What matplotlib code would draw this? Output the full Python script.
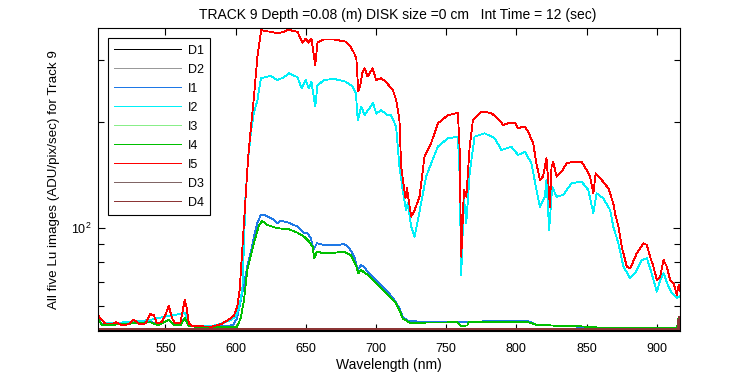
import matplotlib
matplotlib.use("Agg")
import matplotlib.pyplot as plt
import numpy as np
from matplotlib.ticker import FixedLocator, NullFormatter, FixedFormatter
from matplotlib.legend_handler import HandlerLine2D
from matplotlib.lines import Line2D

plt.rcParams['font.family'] = ['Liberation Sans', 'DejaVu Sans']
plt.rcParams['mathtext.fontset'] = 'custom'
plt.rcParams['mathtext.rm'] = 'Liberation Sans'

LW = 0.6

# ---------------- data ----------------
wl_I5 = [502, 503.6, 507, 513, 514.8, 519, 523.8, 527.4, 532, 535.7, 539.3, 541.7, 544, 547.6,
         550.5, 552.4, 554.8, 557, 560.7, 562.4, 563.8, 565, 566.7, 569, 583, 587, 590.5, 595,
         598.8, 601.2, 602.9, 604, 605.5, 607, 609, 611.4, 613.1, 615.5, 618.3, 621, 625, 629.8,
         634.5, 638, 641, 644, 647.6, 650, 651.7, 654, 656.7, 658.3, 663, 670, 678.6, 682, 684.5,
         686, 687.4, 689, 690.5, 692, 694, 697.6, 700, 703.6, 707, 712, 714.3, 716.7, 717.9,
         720.2, 721, 722, 725, 727.4, 731, 734.5, 739.3, 744, 751.2, 758.3, 759.5, 760.7, 762.6,
         764.3, 766.7, 769, 775, 782, 788.1, 790.5, 794, 798.8, 801.2, 806, 808.3, 811.9, 814.3,
         816.7, 819, 821.4, 822.6, 823.8, 825, 826.2, 828.6, 832, 835.7, 840.5, 846.4, 850,
         852.4, 854.8, 856.4, 860.7, 865.5, 869, 870.2, 872.6, 875, 878.6, 881, 885.7, 890.5,
         892.9, 895.2, 897.6, 900, 902.4, 904.8, 907.1, 909.5, 911.9, 914.3, 915.5, 916.5]
I5 = [56.8, 55.2, 53.4, 53.4, 53.9, 52.8, 53.1, 54.7, 53.1, 53.4, 56.8, 56.4, 53.4, 54.0,
      57.1, 59.9, 55.2, 53.4, 53.7, 58.3, 62.3, 59.6, 53.4, 52.5, 52.3, 52.8, 53.4, 54.7,
      56.2, 59.6, 66.5, 78, 96, 120, 160, 202, 236, 306, 365, 362, 361, 357,
      361, 367, 362, 361, 336, 345, 336, 345, 290, 336, 343, 343, 338, 327, 313,
      303, 244, 257, 278, 284, 269, 284, 263, 266, 260, 246, 231, 202, 149,
      128, 121.5, 130, 107.5, 112, 122.5, 159, 174, 198, 209, 212, 170, 82.7, 128,
      122.5, 170, 202, 214, 212, 202, 196, 198, 199, 192, 194, 187.6, 174, 152,
      136.7, 140, 157.5, 137, 114.7, 149, 154, 139.7, 144, 152.4, 154, 154, 146,
      140, 125, 142.8, 136.7, 129.4, 117.3, 109.9, 100.7, 88.3, 77.5, 76.5, 84.6, 90.3,
      89.3, 82.7, 77.5, 71, 72.6, 80.9, 77.5, 71, 69.5, 64.4, 68.7, 66]

wl_I2 = [502, 502.4, 507, 527.4, 539.3, 552.4, 563.8, 567.9, 583.3, 588, 595.2, 600, 602.4,
         604.8, 606, 607, 609, 611, 613, 615.5, 618, 621, 625, 629.8, 634.5, 638, 644, 647.1,
         650, 652, 654, 656.7, 658.3, 663, 670, 678.6, 683.3, 685.7, 687, 689.5, 691.9, 694.3,
         697.9, 700.2, 703.6, 708.3, 710.7, 714.3, 716.7, 719, 721.4, 722.6, 725, 727.4, 729.8,
         732.1, 735.7, 739.3, 744, 751.2, 758.3, 759.5, 760.7, 762.6, 764.3, 766.7, 770.2,
         777.4, 784.5, 789.3, 796.4, 801.2, 806, 810.7, 814.3, 816.7, 820.2, 821.4, 823.3,
         825.5, 828.6, 833.3, 839.3, 846.4, 851.2, 854.8, 857.1, 861.9, 866.7, 869, 872.6,
         876.2, 881, 884.5, 889.3, 892.9, 895.2, 897.6, 900, 902.4, 904.8, 908.3, 910.7,
         914.3, 916.5]
I2 = [55.5, 55.8, 53.4, 54.0, 54.7, 56.1, 57.1, 52.5, 52.5, 53.1, 54.3, 55.8, 59.0,
      66.5, 90, 122, 158, 188, 212, 230, 266, 268, 270, 263, 268, 275, 268, 249,
      263, 249, 260, 221, 254, 263, 265, 260, 252, 241, 202, 221, 209, 216,
      226, 211, 216, 209, 209, 194, 149, 128, 112, 117.3, 100.7, 94.3, 105,
      117.3, 139.7, 152.4, 170, 179.6, 181.5, 142.8, 73.4, 122.5, 103, 142.8, 181.5,
      185.5, 179.6, 166.3, 170, 161, 164.5, 152.4, 128, 114.7, 122.5, 136.7, 98.5,
      130.8, 122.5, 123.9, 133.8, 135.2, 128, 109.9, 125.3, 121.2, 112.3, 100.7, 90.3,
      77.5, 71.8, 74.2, 80.9, 81.9, 76.7, 71, 65.8, 71, 74.2, 68, 65.1,
      63, 64]

wl_I1 = [502, 502.4, 504.8, 514.3, 526.2, 539.3, 545.2, 552.4, 556, 560.7, 563.8, 566.7,
         571.4, 590, 598, 601, 604.8, 608.3, 610.7, 613.6, 615.5, 617.9, 620.2, 622.6, 627.4,
         629.8, 632.1, 638, 644, 648.8, 651.2, 653.6, 655.5, 657.9, 663, 670.2, 677.4, 681,
         684.5, 686.9, 689.3, 691.7, 694, 698.8, 703.6, 708.3, 713, 716.7, 719, 722.6, 732,
         755, 766, 790, 808, 814, 829, 840, 843, 856]
I1 = [55.0, 54.9, 53.0, 53.2, 53.6, 54.0, 53.0, 54.6, 53.0, 53.0, 55.5, 52.6,
      52.5, 52.5, 52.8, 55.2, 65.1, 77.5, 84.6, 96.4, 103, 108.7, 108.7, 107.5, 105.2,
      103, 104.7, 103.3, 100.7, 96.4, 96.4, 93.3, 86.4, 90.3, 89.3, 89, 89.9, 87.4,
      82.7, 75.8, 78.3, 77.2, 75, 71.8, 68.7, 65.8, 62.3, 59, 55.8, 54.4, 54,
      54.0, 54.0, 54.3, 54.3, 53.0, 52.6, 52.6, 52.3, 52.3]

wl_I4 = [502, 502.4, 504.8, 514.3, 526.2, 539.3, 545.2, 552.4, 556, 560.7, 563.8, 566.7,
         571.4, 598, 601, 603.6, 606, 608.3, 610.7, 613.6, 616.7, 619, 622.6, 629.8, 638,
         644, 648.8, 652.4, 654.8, 656, 657.9, 663, 670.2, 677.4, 682.1, 685.7, 687.4, 689.3,
         694, 698.8, 703.6, 708.3, 714.3, 716.7, 719, 723.8, 732, 758, 760.7, 765, 766, 808,
         814, 829, 840, 858, 913, 914.5, 915.5, 916.5]
I4 = [54.8, 54.7, 52.8, 53.0, 53.4, 53.8, 52.8, 54.7, 52.8, 52.8, 55.3, 52.5,
      52.3, 52.3, 52.3, 55.2, 62.3, 75.8, 82.7, 92.2, 101.8, 104.4, 101.8, 99.6, 99,
      96.8, 94.3, 91.2, 88.3, 81.8, 85.4, 84.6, 84.9, 85.4, 83.6, 78.3, 74.2, 75.8,
      73.4, 70.2, 67.3, 64.4, 60.9, 58.3, 55.2, 53.7, 53.7, 53.8, 52.6, 52.7, 53.9, 53.9,
      53.0, 52.6, 52.6, 52.0, 52.0, 52.0, 55.8, 55.8]

wl_dark = [502, 916.5]
D1 = [51.3, 51.3]
D2 = [51.35, 51.35]
I3 = [51.4, 51.4]
D3 = [51.5, 51.5]
wl_D4 = [502, 915, 915.5, 916.5]
D4 = [51.5, 51.5, 55.8, 51.5]

names = ['D1', 'D2', 'I1', 'I2', 'I3', 'I4', 'I5', 'D3', 'D4']
colors = ['#000000', '#999999', '#1E78E6', '#00F0F8', '#88EE88', '#00C000', '#FF0000',
          '#806565', '#8C3535']


class ShiftedLine(HandlerLine2D):
    """Legend line that starts a little to the right of the handle box."""
    shift = 3.6  # points

    def create_artists(self, legend, orig_handle, xdescent, ydescent, width, height,
                       fontsize, trans):
        arts = super().create_artists(legend, orig_handle, xdescent, ydescent, width,
                                      height, fontsize, trans)
        for a in arts:
            if isinstance(a, Line2D):
                xd = np.asarray(a.get_xdata(), dtype=float)
                if xd.size == 2:
                    a.set_xdata([xd[0] + self.shift, xd[1]])
                a.set_color(orig_handle.get_color())
                a.set_antialiased(False)
                a.set_linewidth(LW)
        return arts


# ---------------- figure ----------------
fig = plt.figure(figsize=(7.5, 3.75), dpi=100)
ax = fig.add_axes([98/750, 1-330.5/375, 582/750, 302.2/375])

series = [(wl_dark, D1), (wl_dark, D2), (wl_I1, I1), (wl_I2, I2), (wl_dark, I3),
          (wl_I4, I4), (wl_I5, I5), (wl_dark, D3), (wl_D4, D4)]
handles = []
for (x, y), n, c in zip(series, names, colors):
    h, = ax.plot(x, y, color=c, lw=LW, label=n, antialiased=False)
    handles.append(h)

ax.set_yscale('log')
ax.set_xlim(502, 916.5)
ax.set_ylim(51.0, 369)

ax.set_xticks([550, 600, 650, 700, 750, 800, 850, 900])
ax.yaxis.set_major_locator(FixedLocator([100]))
ax.yaxis.set_major_formatter(FixedFormatter([r'$\mathregular{10^2}$']))
ax.yaxis.set_minor_locator(FixedLocator([60, 70, 80, 90, 200, 300]))
ax.yaxis.set_minor_formatter(NullFormatter())

ax.tick_params(which='both', direction='in', top=True, right=True, labelsize=9,
               width=0.8, color='black')
ax.tick_params(which='major', length=5)
ax.tick_params(which='minor', length=4)
ax.tick_params(axis='x', which='major', pad=9)
ax.tick_params(axis='y', which='major', pad=5)
for s in ax.spines.values():
    s.set_linewidth(0.8)

ax.set_title('TRACK 9 Depth =0.08 (m) DISK size =0 cm   Int Time = 12 (sec)',
             fontsize=10, pad=7, x=0.515)
ax.set_xlabel('Wavelength (nm)', fontsize=10, labelpad=2)
ax.set_ylabel('All five Lu images (ADU/pix/sec) for Track 9', fontsize=9.6, labelpad=8)

leg = ax.legend(handles=handles, loc='upper left', bbox_to_anchor=(0.0175, 0.967), fontsize=9,
                handlelength=5.3, handletextpad=0.55, labelspacing=0.56, borderpad=0.5,
                fancybox=False, framealpha=1, edgecolor='black', borderaxespad=0,
                handler_map={Line2D: ShiftedLine()})
leg.get_frame().set_linewidth(0.8)

fig.savefig('out.png', dpi=100)
